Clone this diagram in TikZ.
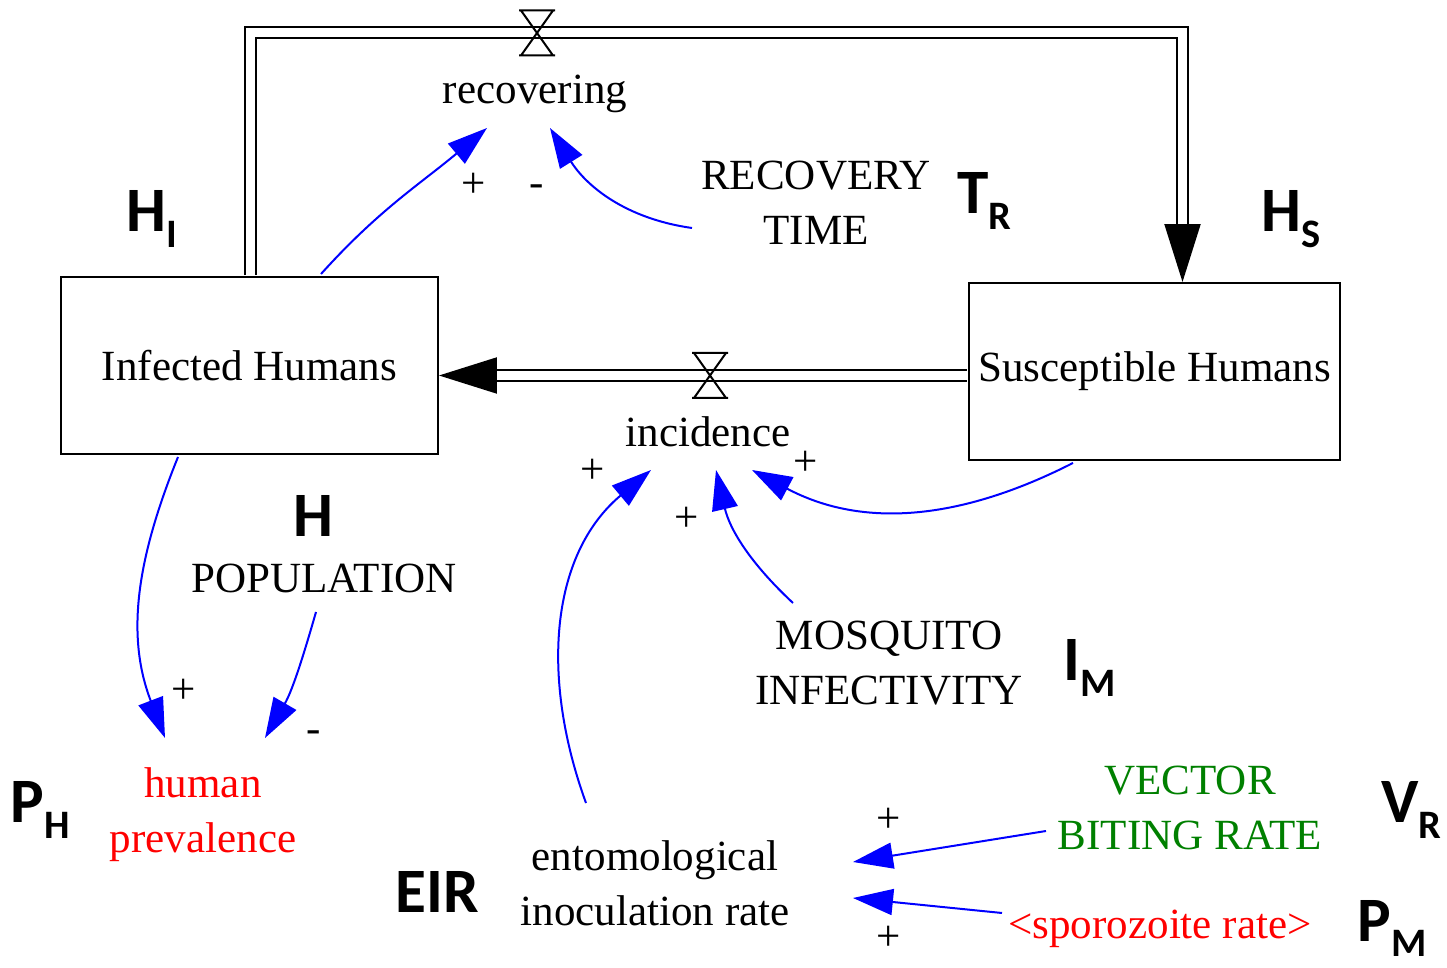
\documentclass[tikz,border=0pt]{standalone}
\usepackage{fontspec}
\setmainfont{Liberation Serif}
\newfontfamily\calibri{Carlito}
\usetikzlibrary{arrows.meta}
\usepackage{xcolor}

\definecolor{vgreen}{RGB}{0,128,0}
\newcommand{\vensim}{\fontsize{24.5}{31.3}\selectfont}
\newcommand{\symfont}{\calibri\bfseries\fontsize{36}{40}\selectfont}
\newcommand{\symsub}[2]{#1\raisebox{-9pt}{\fontsize{23}{23}\selectfont #2}}

\begin{document}
\begin{tikzpicture}[x=0.02cm, y=0.02cm,
        stock/.style={draw, line width=0.04cm, minimum height=3.54cm, font=\vensim},
        vtext/.style={align=center, inner sep=0pt, font=\vensim},
        polarity/.style={inner sep=0pt, font=\vensim},
        symb/.style={anchor=base west, inner sep=0pt, font=\symfont},
        link/.style={draw=blue, line width=0.04cm, -{Triangle[length=0.8cm, width=0.52cm]}},
        pipe/.style={double, double distance=0.18cm, line width=0.04cm, shorten <=0.02cm},
        pipetip/.style={line width=0.04cm, -{Triangle[length=1.16cm, width=0.72cm]}},
        valve/.pic={
            \draw[line width=0.04cm]
                (-18,22.5) -- (18,22.5)
                (-16,22.5) -- (16,-22.5)
                (16,22.5) -- (-16,-22.5)
                (-18,-22.5) -- (18,-22.5);
        }
    ]
        \useasboundingbox (0,0) rectangle (1447,967);

        % stocks
        \node (inf) [stock, minimum width=7.54cm] at (249.5,601.5) {Infected Humans};
        \node (sus) [stock, minimum width=7.42cm] at (1154.5,595.5) {Susceptible Humans};

        % flows, auxiliaries
        \node (rec) [vtext] at (535,873) {recovering};
        \node (inc) [vtext] at (708,535) {incidence};
        \node (rtime) [vtext] at (816,764) {RECOVERY\\TIME};
        \node (pop) [vtext] at (324,388.5) {POPULATION};
        \node (mosq) [vtext] at (889,303.5) {MOSQUITO\\INFECTIVITY};
        \node (hprev) [vtext, text=red] at (203,152) {human\\prevalence};
        \node (ent) [vtext] at (655,83.5) {entomological\\inoculation rate};
        \node (vbr) [vtext, text=vgreen] at (1190,159.5) {VECTOR\\BITING RATE};
        \node (spr) [vtext, text=red] at (1160,38) {<sporozoite rate>};

        % symbols
        \node (hi) [symb] at (126,735) {\symsub{H}{I}};
        \node (tr) [symb] at (957,753) {\symsub{T}{R}};
        \node (hs) [symb] at (1261,735) {\symsub{H}{S}};
        \node (h) [symb] at (293,430) {H};
        \node (im) [symb] at (1063,286) {\symsub{I}{M}};
        \node (ph) [symb] at (10,144) {\symsub{P}{H}};
        \node (vr) [symb] at (1381,144) {\symsub{V}{R}};
        \node (eir) [symb] at (395,54) {EIR};
        \node (pm) [symb] at (1357,26) {\symsub{P}{M}};

        % pipes
        \coordinate (cornerL) at (250,934);
        \coordinate (cornerR) at (1182.5,934);
        \coordinate (baseS) at (1182.5,742);
        \coordinate (baseI) at (496,591.5);

        \draw[pipe] (inf.north -| cornerL) -- (cornerL) -- (cornerR) -- (baseS);
        \draw[pipetip] (baseS) -- (sus.north -| baseS);
        \draw[pipe] (sus.west |- baseI) -- (baseI);
        \draw[pipetip] (baseI) -- (inf.east |- baseI);
        \pic at (537,934) {valve};
        \pic at (710,591.5) {valve};

        % causal links
        \draw[link, out=48, in=220] ([shift={(71.5,2)}]inf.north) to ([shift={(-48,-34)}]rec.center);
        \draw[link, out=172, in=302] ([shift={(-124,-25)}]rtime.center) to ([shift={(15,-34)}]rec.center);
        \draw[link, out=248, in=111] ([shift={(-71.5,-2)}]inf.south) to ([shift={(-38,77)}]hprev.center);
        \draw[link, out=254, in=60] ([shift={(-8,-33.5)}]pop.center) to ([shift={(62,77)}]hprev.center);
        \draw[link, out=207, in=332] ([shift={(-81.5,-2)}]sus.south) to ([shift={(44,-38)}]inc.center);
        \draw[link, out=137, in=283] ([shift={(-96,60.5)}]mosq.center) to ([shift={(8,-38)}]inc.center);
        \draw[link, out=110, in=220] ([shift={(-69,80.5)}]ent.center) to ([shift={(-57,-38)}]inc.center);
        \draw[link] ([shift={(-144,-23.5)}]vbr.center) -- ([shift={(198,21.5)}]ent.center);
        \draw[link] ([shift={(-158,16)}]spr.center) -- ([shift={(198,-14.5)}]ent.center);

        % polarities
        \node (s1) [polarity] at (474,782) {+};
        \node (s2) [polarity] at (537,776) {-};
        \node (s3) [polarity] at (592.5,495.5) {+};
        \node (s4) [polarity] at (805.5,503.5) {+};
        \node (s5) [polarity] at (687,447.5) {+};
        \node (s6) [polarity] at (184,276) {+};
        \node (s7) [polarity] at (314,230) {-};
        \node (s8) [polarity] at (889,146.5) {+};
        \node (s9) [polarity] at (889,28.5) {+};
    \end{tikzpicture}
\end{document}
